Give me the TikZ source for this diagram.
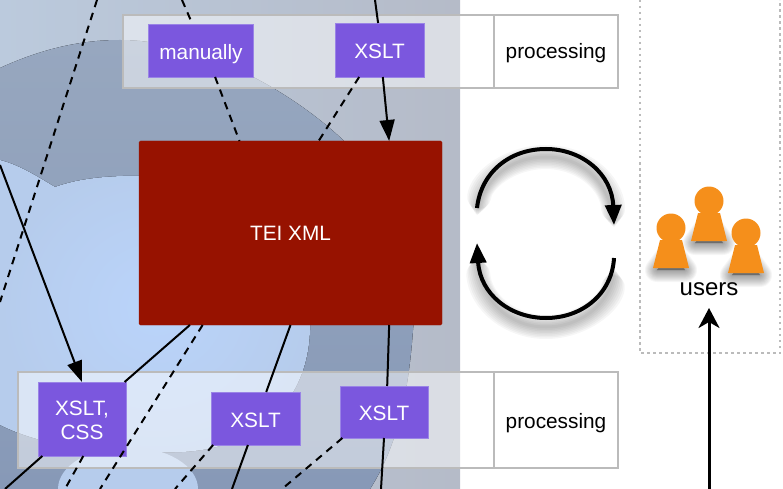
\documentclass[tikz,border=0pt]{standalone}
\usepackage{fontspec}
\setmainfont{Liberation Sans}
\usepackage{xcolor}
\usetikzlibrary{arrows.meta}
\usetikzlibrary{positioning,calc}
\definecolor{boxpurple}{HTML}{7B57DE}
\definecolor{boxedge}{HTML}{9A84E6}
\definecolor{teired}{HTML}{971200}
\definecolor{paneledge}{HTML}{BBBBBB}
\definecolor{pawnorange}{HTML}{F58F1B}
\definecolor{backleft}{HTML}{BBCADD}
\definecolor{backright}{HTML}{B5BBC8}
\definecolor{darktop}{HTML}{97A7BF}
\definecolor{darkbottom}{HTML}{8799B7}
\definecolor{bluein}{HTML}{BAD4FB}
\definecolor{blueout}{HTML}{B6CCEC}
\tikzset{
  every node/.style={font=\fontsize{20.8}{24}\selectfont},
  toolbox/.style={
    draw=boxedge,
    fill=boxpurple,
    text=white,
    align=center,
    inner sep=0pt,
    outer sep=0pt,
    line width=0.6pt
  },
  panel/.style={
    draw=paneledge,
    fill=white,
    fill opacity=0.5,
    inner sep=0pt,
    outer sep=0pt,
    line width=2pt
  },
  proccell/.style={
    draw=paneledge,
    inner sep=0pt,
    outer sep=0pt,
    line width=2pt,
    text depth=0pt
  },
  flow/.style={line width=2pt},
  flowdash/.style={line width=2pt, dash pattern=on 7.5pt off 6pt},
  flowarrow/.style={line width=2pt, -{Triangle[length=21pt, width=15pt]}},
  looparrow/.style={line width=4pt, -{Triangle[length=20pt, width=16pt]}},
  pawn/.pic={
    % soft shadow
    \foreach \w in {24,22,20,18,16,14,12,10,8,6,4,2}{
      \path[draw=black, fill=black, opacity=0.035, line width=\w pt, line join=round]
        (-5,30) -- (5,30) -- (14,42) -- (-14,42) -- cycle;
    }
    \fill[pawnorange] (0,0) circle (14.5);
    \fill[pawnorange] (-11,12) -- (11,12) -- (18,40) -- (-18,40) -- cycle;
  }
}
\begin{document}
\begin{tikzpicture}[x=1pt,y=-1pt]
  \useasboundingbox (0,0) rectangle (783,489);

  % Backdrop
  \begin{scope}
    \clip (0,0) rectangle (460,489);
    \fill[left color=backleft, right color=backright] (0,0) rectangle (460,489);
    \fill[top color=darktop, bottom color=darkbottom]
      (0,68) .. controls (50,45) and (90,40) .. (120,40)
      .. controls (200,40) and (290,90) .. (343,140)
      .. controls (390,190) and (420,260) .. (413,330)
      .. controls (408,400) and (395,450) .. (370,489) -- (0,489) -- cycle;
    \fill[inner color=bluein, outer color=blueout]
      (0,160) .. controls (20,165) and (40,178) .. (55,187)
      .. controls (80,178) and (110,175) .. (150,176)
      .. controls (250,178) and (312,250) .. (310,330)
      .. controls (308,400) and (260,448) .. (182,452)
      .. controls (100,455) and (40,445) .. (0,425) -- cycle;
    \fill[blueout] (128,489) ellipse (70 and 42);
  \end{scope}

  % Bands
  \node[panel, minimum width=371pt, minimum height=73pt] (panelTop) at (308.5,51.5) {};
  \node[panel, minimum width=476pt, minimum height=96pt] (panelLow) at (256,420) {};
  \node[proccell, text height=15pt, minimum width=124pt, minimum height=73pt] (procTop) at (556,51.5) {processing};
  \node[proccell, text height=16pt, minimum width=124pt, minimum height=96pt] (procLow) at (556,420) {processing};

  % Users area
  \draw[paneledge, line width=2pt, dash pattern=on 2.5pt off 3.5pt] (640,0) |- (780,353) -- (780,0);

  % Nodes
  \node[toolbox, text height=19pt, text depth=0pt, minimum width=105pt, minimum height=53pt] (manually) at (201,50.5) {manually};
  \node[toolbox, text height=18pt, text depth=0pt, minimum width=89pt, minimum height=54pt] (xsltTop) at (379.5,50) {XSLT};
  \node[draw=teired, fill=teired, text=white, rounded corners=1.5pt, inner sep=0pt, outer sep=0pt,
    minimum width=303pt, minimum height=184pt] (tei) at (290.5,233) {TEI XML};
  \node[toolbox, text height=42pt, minimum width=88pt, minimum height=74pt] (xsltCss) at (82,419) {XSLT,\\[0.5pt]CSS};
  \node[toolbox, text height=17pt, text depth=0pt, minimum width=89pt, minimum height=53pt] (xsltMid) at (255.5,418.5) {XSLT};
  \node[toolbox, text height=17.4pt, text depth=0pt, minimum width=88pt, minimum height=52pt] (xsltLow) at (384,412) {XSLT};
  \node[font=\fontsize{24}{28}\selectfont, text height=14pt, text depth=0pt, inner sep=0pt, outer sep=0pt,
    minimum height=40pt, minimum width=70pt] (users) at (709,288) {users};

  % Free ends
  \coordinate (dashTopA) at (97,0);
  \coordinate (dashLeftA) at (0,302);
  \coordinate (solidLeft) at (0,165);
  \coordinate (manualIn) at (182,0);
  \coordinate (xsltIn) at (375,0);
  \coordinate (cssOut) at (5,489);
  \coordinate (dashOutA) at (100,489);
  \coordinate (dashOutB) at (65,489);
  \coordinate (midOut) at (232,489);
  \coordinate (midDash) at (175,489);
  \coordinate (lowOut) at (381,489);
  \coordinate (lowDash) at (282,489);
  \coordinate (usersIn) at (709,489);
  \coordinate (loopA) at (477,208);
  \coordinate (loopB) at (614,225);
  \coordinate (loopC) at (614,258);
  \coordinate (loopD) at (477,243);

  % Connectors, upper part
  \draw[flowdash] (dashTopA) -- (dashLeftA);
  \draw[flowdash] (manualIn) -- (manually.108);
  \draw[flowdash] (manually.-62) -- (tei.119);
  \draw[flow] (xsltIn) -- (xsltTop.93);
  \draw[flowdash] (xsltTop.-127) -- (tei.73);
  \draw[flowarrow] (xsltTop.-83) -- (tei.43);

  % Connectors, lower part
  \draw[flowarrow] (solidLeft) -- (xsltCss.north);
  \draw[flow] ($(tei.south west)!0.168!(tei.south east)$) -- (xsltCss.41);
  \draw[flow] (xsltCss.223) -- (cssOut);
  \draw[flowdash] ($(tei.south west)!0.21!(tei.south east)$) -- (dashOutA);
  \draw[flowdash] (xsltCss.-88) -- (dashOutB);
  \draw[flow] (tei.south) -- (xsltMid.68);
  \draw[flow] (xsltMid.-106) -- (midOut);
  \draw[flowdash] (xsltMid.-148) -- (midDash);
  \draw[flow] (tei.-43) -- (xsltLow.83);
  \draw[flow] (xsltLow.south) -- (lowOut);
  \draw[flowdash] (xsltLow.-148) -- (lowDash);
  \draw[line width=3pt, -{Stealth[length=20pt, width=21pt, inset=6pt]}] (usersIn) -- (users.south);

  % Shadows of the loop
  \foreach \w in {24,21,18,15,12,9,6,3}{
    \draw[black, opacity=0.035, line width=\w pt, line cap=round, shorten <=0.8*\w pt, shorten >=0.8*\w pt]
      (477,216) .. controls (481,180) and (510,157) .. (546,157) .. controls (582,157) and (612,182) .. (614,228);
    \draw[black, opacity=0.035, line width=\w pt, line cap=round, shorten <=0.8*\w pt, shorten >=0.8*\w pt]
      (614,268) .. controls (612,302) and (582,327) .. (546,327) .. controls (510,327) and (480,302) .. (477,255);
  }

  % Loop
  \draw[looparrow] (loopA) .. controls (481,172) and (510,149) .. (546,149) .. controls (582,149) and (612,174) .. (loopB);
  \draw[looparrow] (loopC) .. controls (612,294) and (582,318) .. (546,318) .. controls (510,318) and (480,294) .. (loopD);

  % Pawns
  \pic at (671,228) {pawn};
  \pic at (709,201) {pawn};
  \pic at (746,233) {pawn};
\end{tikzpicture}
\end{document}
